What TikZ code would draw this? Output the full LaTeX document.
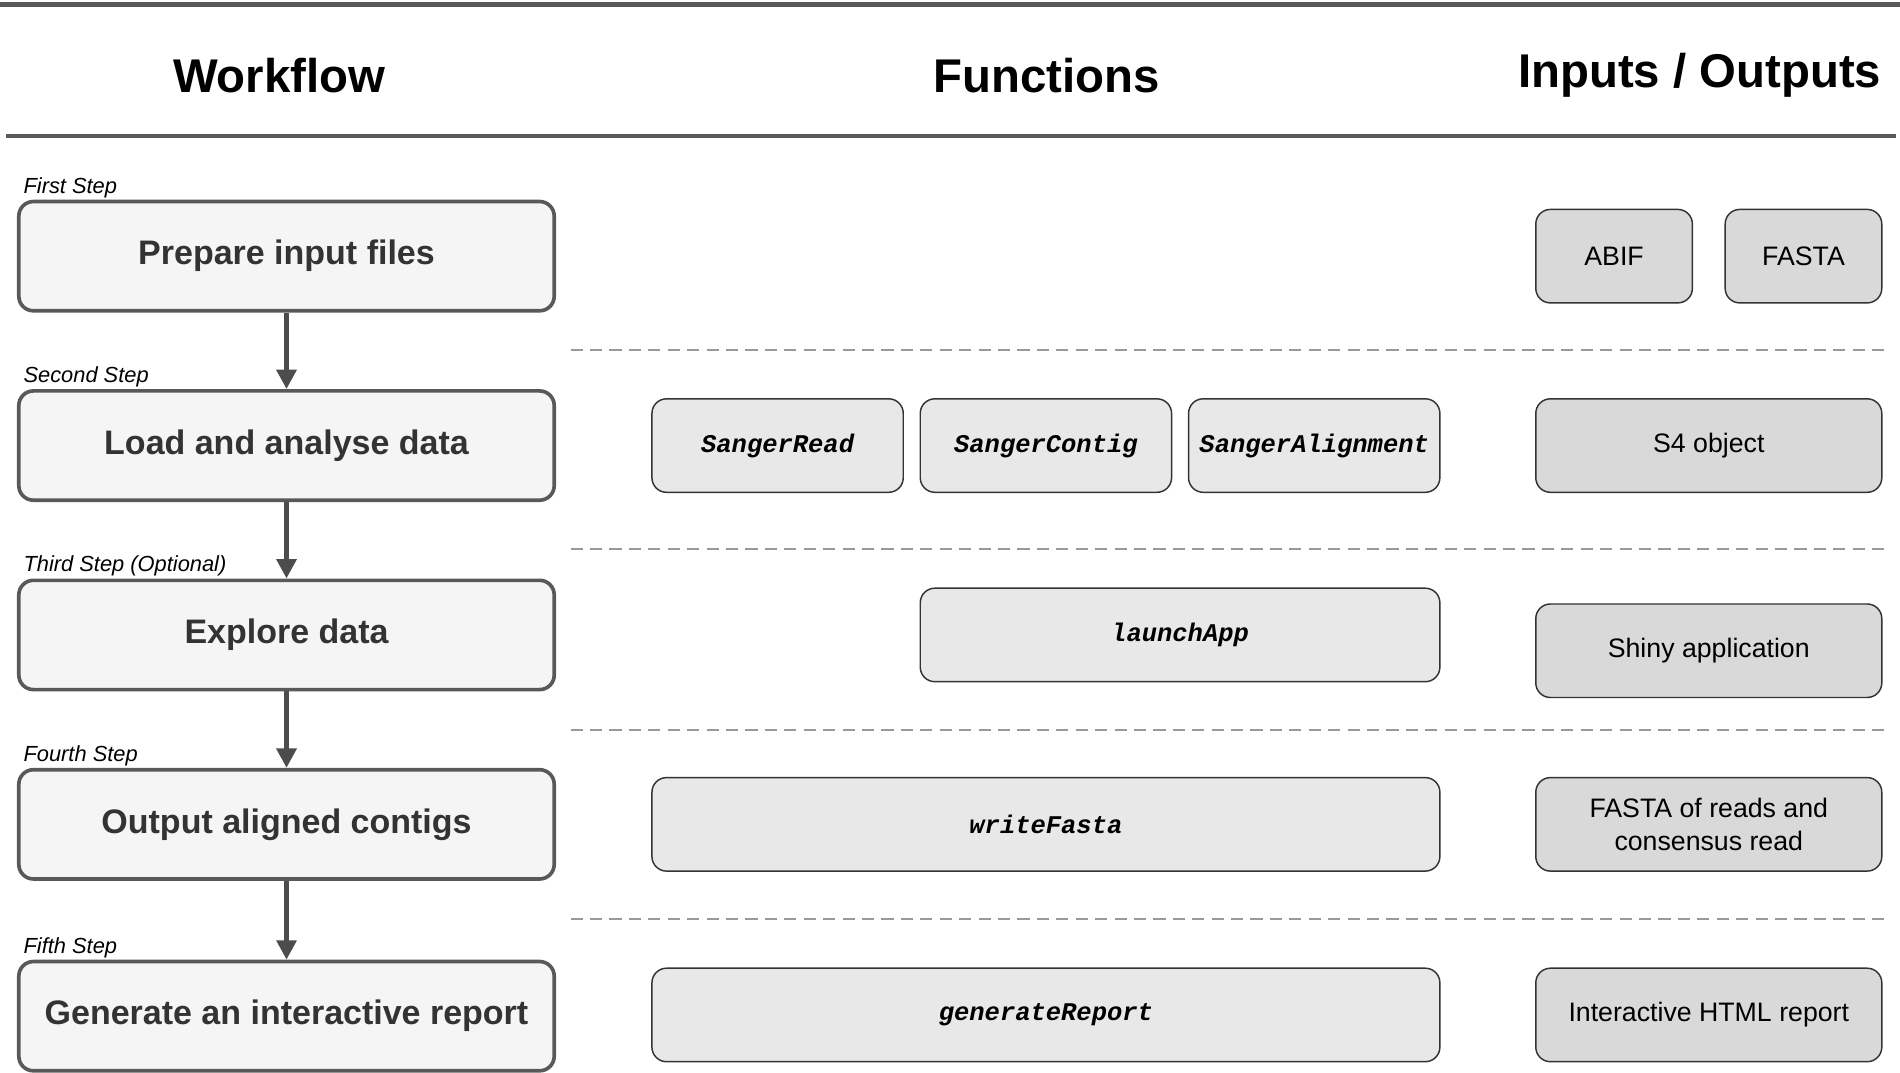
\documentclass[tikz,border=0pt]{standalone}
\usepackage{fontspec}
\setmainfont{Liberation Sans}
\newfontfamily\codefont{Liberation Mono}
\usetikzlibrary{arrows.meta}
\tikzstyle{wfstep} = [draw=black!65, line width=1.5pt, fill=black!4, rectangle,
    rounded corners=6pt, minimum width=220.5pt, minimum height=45pt,
    font=\fontsize{14}{16}\selectfont\bfseries, text=black!80]
\tikzstyle{func} = [draw=black!80, line width=0.6pt, fill=black!9, rectangle,
    rounded corners=6pt, minimum height=38.5pt, inner sep=1pt,
    font=\fontsize{10.5}{12}\codefont\bfseries\itshape]
\tikzstyle{io} = [draw=black!80, line width=0.6pt, fill=black!15, rectangle,
    rounded corners=6pt, minimum height=38.5pt, align=center,
    font=\fontsize{11}{13.5}\selectfont]
\tikzstyle{steplabel} = [anchor=base west, inner sep=0, font=\fontsize{9}{10}\selectfont\itshape]
\tikzstyle{header} = [font=\fontsize{19.5}{24}\selectfont\bfseries]
\tikzstyle{sep} = [black!40, line width=0.8pt, dash pattern=on 5pt off 3pt]
\tikzstyle{flow} = [-{Triangle[length=8pt,width=8pt]}, black!70, line width=2pt]
\begin{document}
\begin{tikzpicture}[x=0.5pt, y=-0.5pt]
\useasboundingbox (0,0) rectangle (1565,883);
% Header
	\draw [black!65, line width=2pt] (0,4) -- (1565,4);
	\draw [black!65, line width=2pt] (5,112) -- (1562,112);
	\node [header] (hwork) at (230,62) {Workflow};
	\node [header] (hfunc) at (862,62) {Functions};
	\node [header] (hio) at (1400,62) {Inputs / Outputs};
% Workflow
	\node [wfstep] (prep) at (236,211) {Prepare input files};
	\node [wfstep] (load) at (236,367) {Load and analyse data};
	\node [wfstep] (expl) at (236,523) {Explore data};
	\node [wfstep] (outp) at (236,679) {Output aligned contigs};
	\node [wfstep] (gen) at (236,837) {Generate an interactive report};
	\node [steplabel] (l1) at (19,159) {First Step};
	\node [steplabel] (l2) at (19,315) {Second Step};
	\node [steplabel] (l3) at (19,471) {Third Step (Optional)};
	\node [steplabel] (l4) at (19,627) {Fourth Step};
	\node [steplabel] (l5) at (19,785) {Fifth Step};
	\draw [flow] (prep) -- (load);
	\draw [flow] (load) -- (expl);
	\draw [flow] (expl) -- (outp);
	\draw [flow] (outp) -- (gen);
% Separators
	\foreach \y in {288,452,601,757}
		\draw [sep] (470,\y) -- (1555,\y);
% Functions
	\node [func, minimum width=103.5pt] (sread) at (640.5,367) {SangerRead};
	\node [func, minimum width=103.5pt] (scontig) at (861.5,367) {SangerContig};
	\node [func, minimum width=103.5pt] (salign) at (1082.5,367) {SangerAlignment};
	\node [func, minimum width=214pt] (launch) at (972,523) {launchApp};
	\node [func, minimum width=324.5pt] (wfasta) at (861.5,679) {writeFasta};
	\node [func, minimum width=324.5pt] (greport) at (861.5,836) {generateReport};
% Inputs / Outputs
	\node [io, minimum width=64.5pt] (abif) at (1329.5,211) {ABIF};
	\node [io, minimum width=64.5pt] (fasta) at (1485.5,211) {FASTA};
	\node [io, minimum width=142.5pt] (s4) at (1407.5,367) {S4 object};
	\node [io, minimum width=142.5pt] (shiny) at (1407.5,536) {Shiny application};
	\node [io, minimum width=142.5pt] (freads) at (1407.5,679) {FASTA of reads and\\consensus read};
	\node [io, minimum width=142.5pt] (html) at (1407.5,836) {Interactive HTML report};
\end{tikzpicture}
\end{document}
